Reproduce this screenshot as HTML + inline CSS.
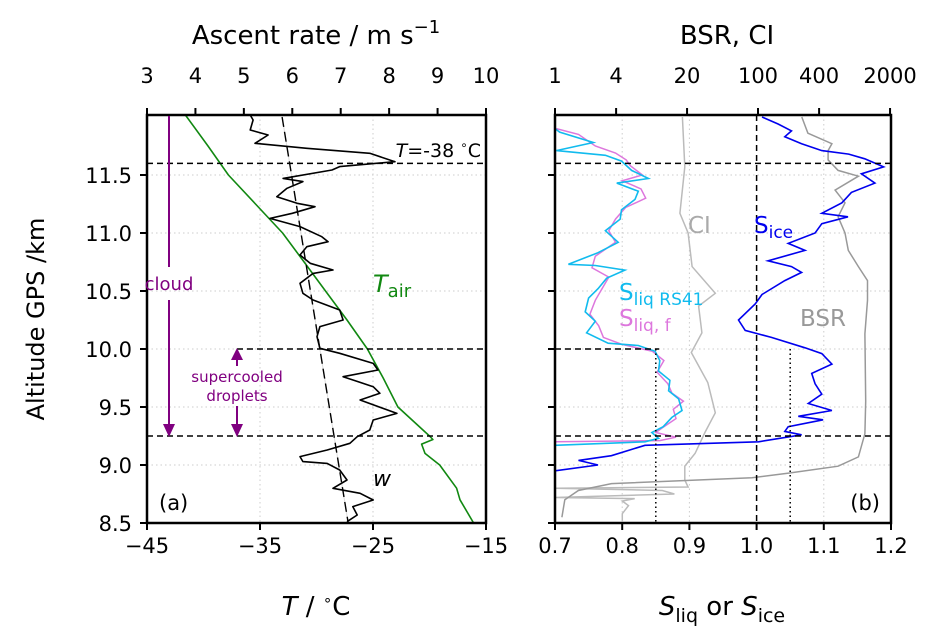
<!DOCTYPE html>
<html><head><meta charset="utf-8"><style>
body{margin:0;background:#fff;}
svg{display:block;font-family:"DejaVu Sans","Liberation Sans",sans-serif;}
</style></head><body>
<svg id="fig" width="939" height="643" viewBox="0 0 939 643" xmlns="http://www.w3.org/2000/svg"></svg>
<script>
// ---------- data ----------
const wAlt=[12.017,11.974,11.888,11.845,11.773,11.730,11.687,11.615,11.572,11.543,11.471,11.443,11.385,11.313,11.256,11.227,11.170,11.126,11.055,10.968,10.925,10.882,10.810,10.739,10.681,10.652,10.566,10.480,10.422,10.336,10.250,10.193,10.106,10.006,9.963,9.876,9.819,9.761,9.675,9.618,9.560,9.445,9.388,9.302,9.244,9.187,9.129,9.072,9.029,9.014,8.957,8.871,8.799,8.756,8.698,8.641,8.569,8.511];
const wVal=[5.13,5.19,5.13,5.5,5.23,6.3,7.6,8.12,6.98,6.82,5.81,6.22,5.89,5.68,6.1,6.47,6.0,5.54,6.16,6.61,6.74,6.3,6.16,6.37,6.84,6.43,6.16,6.22,6.43,6.98,7.05,6.57,6.51,6.57,6.98,7.67,7.77,7.05,7.67,7.81,7.4,8.16,7.67,7.6,7.34,7.19,6.72,6.16,6.22,6.72,6.98,7.13,6.84,7.4,7.67,7.25,7.34,7.13];
const wFitAlt=[12.0,8.51];
const wFitVal=[5.79,7.15];
const tAlt=[12.017,11.75,11.5,11.25,11.0,10.75,10.5,10.25,10.0,9.75,9.5,9.25,9.22,9.18,9.1,9.0,8.8,8.7,8.5];
const tVal=[-41.6,-39.6,-37.8,-35.4,-33.0,-31.1,-29.2,-27.3,-25.5,-24.1,-22.8,-20.0,-19.7,-20.7,-20.4,-19.1,-17.6,-17.3,-16.1];
const cyAlt=[11.9,11.87,11.78,11.71,11.67,11.62,11.54,11.47,11.43,11.36,11.29,11.20,11.12,11.02,10.92,10.83,10.73,10.72,10.68,10.61,10.52,10.44,10.32,10.24,10.14,10.05,10.03,9.98,9.90,9.81,9.73,9.64,9.57,9.47,9.41,9.33,9.28,9.23,9.20,9.17];
const cyVal=[0.700,0.707,0.757,0.702,0.775,0.799,0.814,0.839,0.792,0.824,0.819,0.799,0.797,0.775,0.794,0.764,0.720,0.760,0.804,0.777,0.764,0.750,0.745,0.760,0.747,0.779,0.824,0.849,0.856,0.854,0.871,0.869,0.884,0.889,0.874,0.861,0.844,0.854,0.834,0.700];
const mgAlt=[11.9,11.85,11.75,11.69,11.63,11.58,11.50,11.45,11.38,11.30,11.22,11.12,11.02,10.92,10.80,10.70,10.62,10.52,10.42,10.30,10.20,10.10,10.04,9.98,9.90,9.80,9.70,9.62,9.55,9.48,9.40,9.33,9.28,9.24,9.21,9.20];
const mgVal=[0.702,0.735,0.760,0.790,0.806,0.812,0.830,0.800,0.828,0.835,0.805,0.790,0.780,0.790,0.760,0.755,0.780,0.770,0.760,0.752,0.765,0.772,0.800,0.845,0.862,0.852,0.868,0.874,0.891,0.876,0.880,0.862,0.850,0.880,0.856,0.700];
const siAlt=[12.0,11.94,11.88,11.83,11.77,11.71,11.68,11.64,11.57,11.51,11.43,11.35,11.26,11.17,11.14,11.08,11.0,10.91,10.85,10.76,10.71,10.66,10.59,10.47,10.39,10.25,10.16,10.10,10.01,9.96,9.87,9.79,9.70,9.61,9.53,9.47,9.42,9.39,9.33,9.29,9.26,9.20,9.17,9.08,9.04,9.0,8.95,8.55,8.52];
const siVal=[1.008,1.032,1.052,1.042,1.067,1.097,1.137,1.161,1.189,1.156,1.176,1.141,1.127,1.097,1.136,1.097,1.087,1.047,1.072,1.017,1.052,1.067,1.042,1.008,0.998,0.973,0.983,1.022,1.072,1.097,1.112,1.082,1.087,1.097,1.077,1.112,1.062,1.099,1.047,1.042,1.067,1.003,0.834,0.784,0.735,0.764,0.700,0.700,0.700];
const bsrAlt=[12.0,11.86,11.77,11.71,11.63,11.54,11.49,11.37,11.26,11.14,11.0,10.85,10.71,10.59,10.42,10.13,9.55,9.27,9.07,8.99,8.93,8.89,8.84,8.78,8.70,8.55];
const bsrVal=[270,310,535,490,490,615,975,575,720,615,720,775,975,1200,1200,1130,1150,1130,975,615,200,87,3.6,1.7,1.25,1.17];
const ciAlt=[12.0,11.57,11.17,11.0,10.71,10.48,10.37,10.14,9.97,9.71,9.45,9.28,9.10,8.99,8.87,8.81,8.80,8.78,8.75,8.72,8.71,8.69,8.65,8.58,8.52];
const ciVal=[18,19,17,20.5,22.4,38,26,28,22,32,38,30,24,19,19,20.5,1.0,11.4,15,1.0,6.1,4.6,5.3,4.6,4.6];
const tTicks=[-45,-35,-25,-15];
const tTickLabels=["\u221245","\u221235","\u221225","\u221215"];
const wTicks=[3,4,5,6,7,8,9,10];
const altTicks=[8.5,9.0,9.5,10.0,10.5,11.0,11.5];
const sTicks=[0.7,0.8,0.9,1.0,1.1,1.2];
const bsrTicks=[1,4,20,100,400,2000];

// ---------- geometry ----------
const A={l:147,r:486,t:115,b:523}, B={l:555,r:891,t:115,b:523};
const yA=a=>523-(a-8.5)*116;
const xT=t=>A.l+(t+45)/30*(A.r-A.l);
const xW=w=>A.l+(w-3)/7*(A.r-A.l);
const xS=s=>B.l+(s-0.7)/0.5*(B.r-B.l);
const xL=v=>B.l+Math.log10(v)*101.5;
const NS="http://www.w3.org/2000/svg", svg=document.getElementById('fig');
function mk(tag,at,parent){const e=document.createElementNS(NS,tag);for(const k in at)e.setAttribute(k,at[k]);(parent||svg).appendChild(e);return e;}
function line(x1,y1,x2,y2,st,name){const e=mk('line',{x1,y1,x2,y2,style:st});

return e;}
function text(x,y,s,st,name,anchor){const e=mk('text',{x,y,'text-anchor':anchor||'middle',style:st});e.textContent=s;

return e;}
function poly(xs,ys,fx,st,name){const pts=xs.map((v,i)=>fx(v).toFixed(1)+','+yA(ys[i]).toFixed(1)).join(' ');const e=mk('polyline',{points:pts,fill:'none',style:st});

return e;}

const defs=mk('defs',{});
const ca=mk('clipPath',{id:'ca'},defs);mk('rect',{x:A.l,y:A.t,width:A.r-A.l,height:A.b-A.t},ca);
const cb=mk('clipPath',{id:'cb'},defs);mk('rect',{x:B.l,y:B.t,width:B.r-B.l,height:B.b-B.t},cb);

const grid='stroke:#ccc;stroke-width:1;stroke-dasharray:1.5,3';
[-35,-25].forEach(t=>line(xT(t),A.t,xT(t),A.b,grid,'grid-line-a-x'));
altTicks.slice(1).forEach(a=>line(A.l,yA(a),A.r,yA(a),grid,'grid-line-a-y'));
[0.8,0.9,1.1].forEach(s=>line(xS(s),B.t,xS(s),B.b,grid,'grid-line-b-x'));
altTicks.slice(1).forEach(a=>line(B.l,yA(a),B.r,yA(a),grid,'grid-line-b-y'));

const ga=mk('g',{'clip-path':'url(#ca)'});


let e;
e=poly(wFitVal,wFitAlt,xW,'stroke:#ddd;stroke-width:1','w-trend-faint');ga.appendChild(e);
e=poly(tVal,tAlt,xT,'stroke:#118811;stroke-width:1.6;stroke-linejoin:round','t-air-line');ga.appendChild(e);
e=poly(wVal,wAlt,xW,'stroke:#000;stroke-width:1.6;stroke-linejoin:round','ascent-rate-line');ga.appendChild(e);
e=poly(wFitVal,wFitAlt,xW,'stroke:#000;stroke-width:1.4;stroke-dasharray:10,5','ascent-rate-fit');ga.appendChild(e);
const hd='stroke:#000;stroke-width:1.5;stroke-dasharray:6,4';
line(A.l,yA(11.6),A.r,yA(11.6),hd,'t-38-line-a');
line(237,yA(10.0),A.r,yA(10.0),hd,'droplet-top-line-a');
line(A.l,yA(9.25),A.r,yA(9.25),hd,'cloud-base-line-a');

const gb=mk('g',{'clip-path':'url(#cb)'});


e=poly(ciVal,ciAlt,xL,'stroke:#bbb;stroke-width:1.5','ci-line');gb.appendChild(e);
e=poly(bsrVal,bsrAlt,xL,'stroke:#999;stroke-width:1.5','bsr-line');gb.appendChild(e);
e=poly(mgVal,mgAlt,xS,'stroke:#dd77dd;stroke-width:1.5','s-liq-f-line');gb.appendChild(e);
e=poly(cyVal,cyAlt,xS,'stroke:#11bbee;stroke-width:1.6','s-liq-rs41-line');gb.appendChild(e);
e=poly(siVal,siAlt,xS,'stroke:#0000ee;stroke-width:1.6','s-ice-line');gb.appendChild(e);
line(xS(1.0),B.t,xS(1.0),B.b,hd,'s-one-line');
const dot='stroke:#000;stroke-width:1.5;stroke-dasharray:1.5,3';
line(xS(0.85),yA(10.0),xS(0.85),B.b,dot,'s-liq-threshold');
line(xS(1.05),yA(10.0),xS(1.05),B.b,dot,'s-ice-threshold');
line(B.l,yA(11.6),B.r,yA(11.6),hd,'t-38-line-b');
line(B.l,yA(10.0),xS(0.855),yA(10.0),hd,'droplet-top-line-b');
line(B.l,yA(9.25),B.r,yA(9.25),hd,'cloud-base-line-b');

[A,B].forEach((P,i)=>{const r=mk('rect',{x:P.l,y:P.t,width:P.r-P.l,height:P.b-P.t,fill:'none',stroke:'#000','stroke-width':2.5});

});

const ts='font-size:21px;fill:#000';
const tk='stroke:#000;stroke-width:2';
tTicks.forEach((t,i)=>{line(xT(t),A.b,xT(t),A.b+7,tk,'x-tick-a');text(xT(t),553,tTickLabels[i],ts,'x-tick-label-a');});
wTicks.forEach(w=>{line(xW(w),A.t,xW(w),A.t-7,tk,'top-tick-a');text(xW(w),83,String(w),ts,'top-tick-label-a');});
altTicks.forEach(a=>{line(A.l,yA(a),A.l-7,yA(a),tk,'y-tick-a');text(132,yA(a)+8,a.toFixed(1),ts,'y-tick-label','end');
line(B.l,yA(a),B.l-7,yA(a),tk,'y-tick-b');});
sTicks.forEach(s=>{line(xS(s),B.b,xS(s),B.b+7,tk,'x-tick-b');text(xS(s),553,s.toFixed(1),ts,'x-tick-label-b');});
bsrTicks.forEach(v=>{line(xL(v),B.t,xL(v),B.t-7,tk,'top-tick-b');text(xL(v),83,String(v),ts,'top-tick-label-b');});

const ls='font-size:26px;fill:#000';
let t1=text(316,44,'',ls,'top-axis-title-a');t1.innerHTML='Ascent rate / m s<tspan dy="-11" style="font-size:18px">\u22121</tspan>';
text(727,44,'BSR, CI',ls,'top-axis-title-b');
let t2=text(316,615,'',ls,'x-axis-title-a');t2.innerHTML='<tspan font-style="italic">T</tspan> / <tspan dy="-10" style="font-size:15px">\u2218</tspan><tspan dy="10">C</tspan>';
let t3=text(722,615,'',ls,'x-axis-title-b');t3.innerHTML='<tspan font-style="italic">S</tspan><tspan dy="7" style="font-size:19px">liq</tspan><tspan dy="-7"> or </tspan><tspan font-style="italic">S</tspan><tspan dy="7" style="font-size:19px">ice</tspan>';
let t4=text(0,0,'Altitude GPS /km',"font-size:24px;fill:#000",'y-axis-title');t4.setAttribute('transform','translate(44,319) rotate(-90)');

let a1=text(481,157,'',"font-size:19px",'t-38-label','end');a1.innerHTML='<tspan font-style="italic">T</tspan>=-38 <tspan dy="-8" style="font-size:12px">\u2218</tspan><tspan dy="8">C</tspan>';
let a2=text(373,292,'',"font-size:24px;fill:#118811",'t-air-label','start');a2.innerHTML='<tspan font-style="italic">T</tspan><tspan dy="5" style="font-size:18px">air</tspan>';
text(373,486,'w',"font-size:22px;font-style:italic",'w-label','start');
text(159,510,'(a)',"font-size:21px",'panel-a-label','start');
text(880,510,'(b)',"font-size:21px",'panel-b-label','end');
text(169,290,'cloud',"font-size:18px;fill:#800080",'cloud-label');
const pu='stroke:#800080;stroke-width:2';
line(169,116,169,267,pu,'cloud-arrow-top');line(169,300,169,428,pu,'cloud-arrow-shaft');
e=mk('polygon',{points:'163,424 175,424 169,437',fill:'#800080'});


text(237,382,'supercooled',"font-size:15px;fill:#800080",'supercooled-label');
text(237,401,'droplets',"font-size:15px;fill:#800080",'droplets-label');
line(237,356,237,366,pu,'droplet-arrow-up');line(237,406,237,428,pu,'droplet-arrow-down');
e=mk('polygon',{points:'231,360 243,360 237,348',fill:'#800080'});


e=mk('polygon',{points:'231,424 243,424 237,437',fill:'#800080'});


text(688,233,'CI',"font-size:23px;fill:#aaa",'ci-label','start');
let b2=text(754,233,'',"font-size:23px;fill:#0000ee",'s-ice-label','start');b2.innerHTML='S<tspan dy="5" style="font-size:17px">ice</tspan>';
text(800,326,'BSR',"font-size:23px;fill:#999",'bsr-label','start');
let b3=text(619,300,'',"font-size:23px;fill:#11bbee",'s-liq-rs41-label','start');b3.innerHTML='S<tspan dy="5" style="font-size:17px">liq RS41</tspan>';
let b4=text(619,326,'',"font-size:23px;fill:#dd77dd",'s-liq-f-label','start');b4.innerHTML='S<tspan dy="5" style="font-size:17px">liq, f</tspan>';
</script>
</body></html>
